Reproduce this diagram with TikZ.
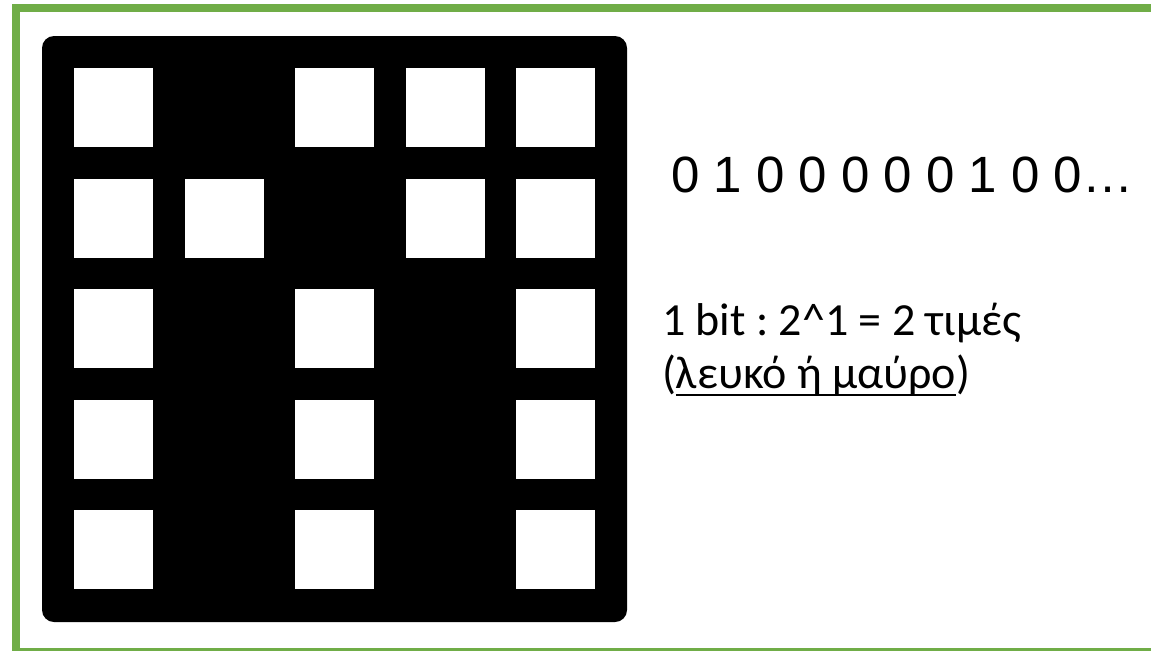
\documentclass[tikz,border=0pt]{standalone}
\usepackage{fontspec}
\setmainfont{Carlito}
\newfontfamily\arialfont{Liberation Sans}
\definecolor{framegreen}{RGB}{112,173,71}
\frenchspacing
\begin{document}
\begin{tikzpicture}[x=1pt,y=-1pt,
  cell/.style={fill=white,draw=none,minimum width=79pt,minimum height=79pt,inner sep=0pt,outer sep=0pt},
  greenbar/.style={draw=framegreen,line cap=butt},
  txt/.style={inner sep=0pt,outer sep=0pt,anchor=base west}]
\useasboundingbox (0,0) rectangle (1151,651);
\fill[white] (0,0) rectangle (1151,651);
% green frame (open to the right, cut at the bottom)
\coordinate (tl) at (12,8);
\coordinate (tr) at (1151,8);
\coordinate (lt) at (16,4);
\coordinate (lb) at (16,651);
\coordinate (bl) at (12,649.5);
\coordinate (br) at (1151,649.5);
\draw[greenbar,line width=8pt] (tl) -- (tr);
\draw[greenbar,line width=8pt] (lt) -- (lb);
\draw[greenbar,line width=3pt] (bl) -- (br);
% black board
\fill[black,rounded corners=12pt] (42,36) rectangle (627,622);
% white cells
\foreach \c/\r in {1/1,3/1,4/1,5/1, 1/2,2/2,4/2,5/2, 1/3,3/3,5/3, 1/4,3/4,5/4, 1/5,3/5,5/5}{
  \node[cell] (cell-\c-\r) at ({113.5+110.5*(\c-1)},{107.5+110.5*(\r-1)}) {};
}
% texts
\node[txt] (bits) at (671,192) {\arialfont\fontsize{51}{60}\selectfont 0 1 0 0 0 0 0 1 0 0…};
\node[txt] (line1) at (662,335) {\fontsize{46}{55}\selectfont 1 bit : 2\^{}1 = 2 τιμές};
\node[txt] (lp) at (662,388) {\fontsize{46}{55}\selectfont (};
\node[txt] (ul) at (lp.base east) {\fontsize{46}{55}\selectfont λευκό ή μαύρο};
\node[txt] (rp) at (ul.base east) {\fontsize{46}{55}\selectfont )};
\draw[line width=2pt] ([yshift=-7pt]ul.base west) -- ([yshift=-7pt]ul.base east);
\end{tikzpicture}
\end{document}
